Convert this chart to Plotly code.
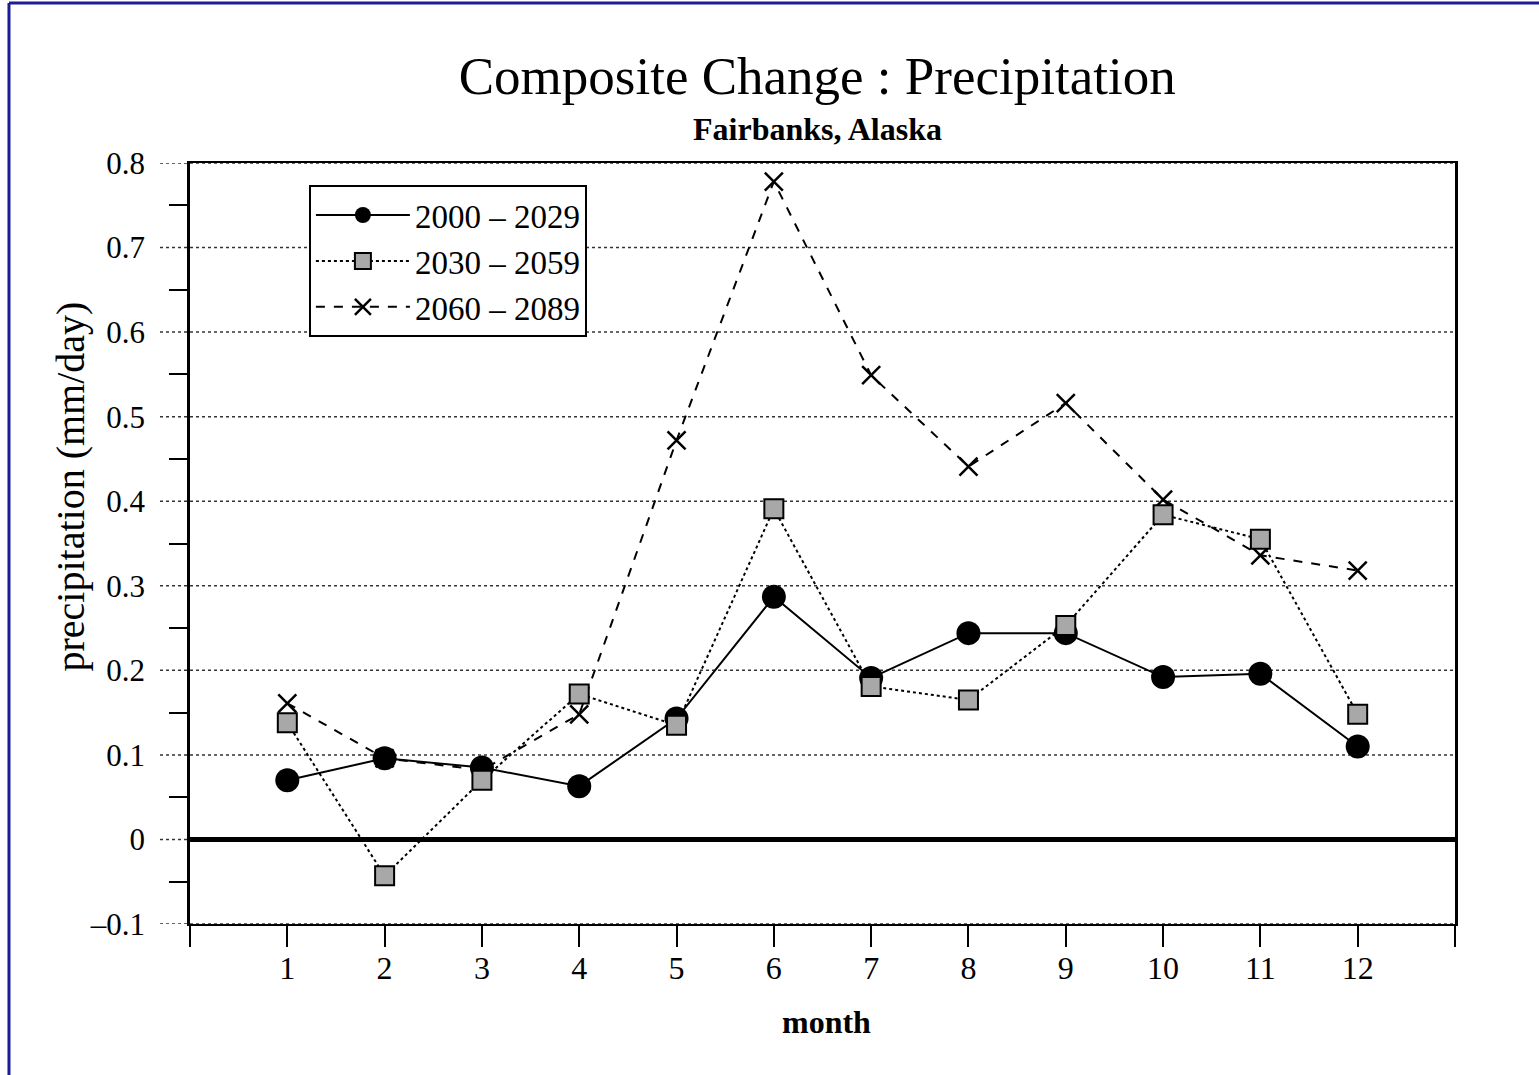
import plotly.graph_objects as go

months = [1, 2, 3, 4, 5, 6, 7, 8, 9, 10, 11, 12]
p2000 = [0.070, 0.096, 0.085, 0.063, 0.143, 0.287, 0.191, 0.244, 0.244, 0.192, 0.196, 0.110]
p2030 = [0.138, -0.043, 0.070, 0.172, 0.135, 0.391, 0.181, 0.165, 0.253, 0.384, 0.355, 0.148]
p2060 = [0.161, 0.096, 0.082, 0.148, 0.472, 0.778, 0.549, 0.441, 0.516, 0.402, 0.336, 0.318]

y_ticks = [-0.1, 0.0, 0.1, 0.2, 0.3, 0.4, 0.5, 0.6, 0.7, 0.8]
y_ticktext = ["\u20130.1", "0", "0.1", "0.2", "0.3", "0.4", "0.5", "0.6", "0.7", "0.8"]
x_ticks = [0, 1, 2, 3, 4, 5, 6, 7, 8, 9, 10, 11, 12, 13]
x_ticktext = ["", "1", "2", "3", "4", "5", "6", "7", "8", "9", "10", "11", "12", ""]

FONT = "Liberation Serif"

fig = go.Figure()
fig.add_trace(go.Scatter(
    x=months, y=p2000, name="2000 \u2013 2029", mode="lines+markers",
    line=dict(color="black", width=2),
    marker=dict(symbol="circle", size=24, color="black"),
    legendrank=1))
fig.add_trace(go.Scatter(
    x=months, y=p2060, name="2060 \u2013 2089", mode="lines+markers",
    line=dict(color="black", width=2, dash="dash"),
    marker=dict(symbol="x-thin", size=18, color="black", line=dict(color="black", width=2.5)),
    legendrank=3))
fig.add_trace(go.Scatter(
    x=months, y=p2030, name="2030 \u2013 2059", mode="lines+markers",
    line=dict(color="black", width=2, dash="dot"),
    marker=dict(symbol="square", size=19, color="#a8a8a8", line=dict(color="black", width=2)),
    legendrank=2))

# dotted gridlines extending outside the left axis
for v in y_ticks:
    fig.add_shape(type="line", xref="paper", yref="y", x0=-0.0237, x1=1, y0=v, y1=v,
                  line=dict(color="#333333", width=1.5, dash="dot"), layer="below")

# blue page border (left and top)
fig.add_shape(type="line", xref="paper", yref="paper", x0=-0.1431, x1=-0.1431, y0=1.2102, y1=-0.25,
              line=dict(color="#1c1c96", width=3))
fig.add_shape(type="line", xref="paper", yref="paper", x0=-0.1431, x1=1.1, y0=1.2102, y1=1.2102,
              line=dict(color="#1c1c96", width=3))

fig.add_annotation(text="<b>Fairbanks, Alaska</b>", xref="paper", yref="paper",
                   x=0.4957, y=1.0447, xanchor="center", yanchor="middle", showarrow=False,
                   font=dict(family=FONT, size=32, color="black"))
fig.add_annotation(text="<b>month</b>", xref="paper", yref="paper",
                   x=0.5028, y=-0.1288, xanchor="center", yanchor="middle", showarrow=False,
                   font=dict(family=FONT, size=32, color="black"))
fig.add_annotation(text="precipitation (mm/day)", xref="paper", yref="paper",
                   x=-0.0945, y=0.5755, xanchor="center", yanchor="middle", showarrow=False,
                   textangle=-90, font=dict(family=FONT, size=40, color="black"))

fig.update_layout(
    width=1539, height=1075,
    margin=dict(l=190, r=84, t=163, b=151, autoexpand=False),
    paper_bgcolor="white", plot_bgcolor="white",
    font=dict(family=FONT, color="black"),
    title=dict(text="Composite Change : Precipitation", x=0.531, xref="container",
               y=1 - 75 / 1075, yref="container", xanchor="center", yanchor="middle",
               font=dict(family=FONT, size=53, color="black")),
    showlegend=True,
    legend=dict(x=0.094, y=0.971, xanchor="left", yanchor="top",
                bgcolor="white", bordercolor="black", borderwidth=2,
                font=dict(family=FONT, size=33, color="black"),
                itemwidth=94, tracegroupgap=0, itemsizing="trace"),
    xaxis=dict(range=[0, 13], tickmode="array", tickvals=x_ticks, ticktext=x_ticktext,
               showline=True, linecolor="black", linewidth=2, mirror=True,
               ticks="outside", ticklen=21, tickwidth=2, tickcolor="black",
               ticklabelstandoff=-6,
               showgrid=False, zeroline=False,
               tickfont=dict(family=FONT, size=32, color="black")),
    yaxis=dict(range=[-0.1, 0.8], tickmode="array", tickvals=y_ticks, ticktext=y_ticktext,
               showline=True, linecolor="black", linewidth=2.5, mirror=True,
               ticks="outside", ticklen=30, tickwidth=1, tickcolor="rgba(0,0,0,0)",
               ticklabelstandoff=6,
               minor=dict(tickmode="array", tickvals=[v + 0.05 for v in y_ticks[:-1]],
                          ticks="outside", ticklen=18, tickwidth=2, tickcolor="black",
                          showgrid=False),
               showgrid=False, zeroline=True, zerolinecolor="black", zerolinewidth=5,
               tickfont=dict(family=FONT, size=31, color="black")),
)

fig.write_html("out.html", config={"displayModeBar": False},
               post_script="document.body.style.margin='0';")
